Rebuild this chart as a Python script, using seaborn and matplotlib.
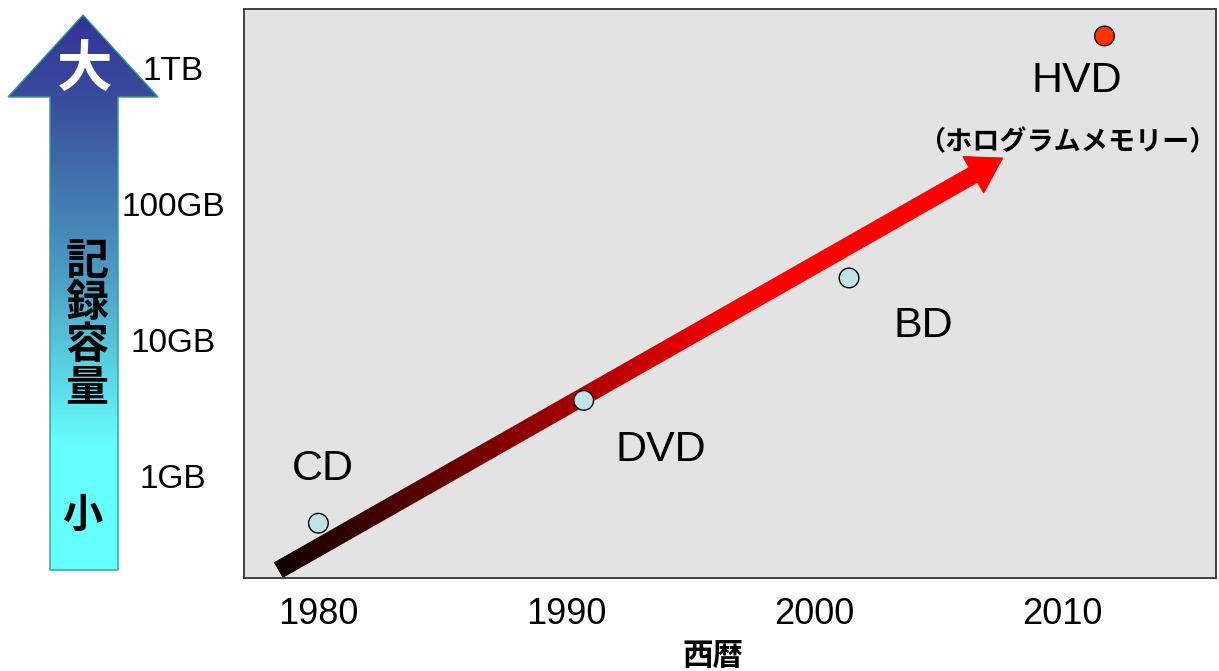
import numpy as np
import pandas as pd
import matplotlib
matplotlib.use("Agg")
import matplotlib.pyplot as plt
import matplotlib.transforms as mtransforms
from matplotlib.patches import Polygon
from matplotlib.colors import LinearSegmentedColormap
from matplotlib.ticker import NullLocator
import seaborn as sns

# === DATA ===
media = ["CD", "DVD", "BD", "HVD"]
years = [1980.0, 1990.7, 2001.4, 2011.7]
capacity_gb = [0.45, 3.6, 28.6, 1720]
kind = ["optical", "optical", "optical", "hologram"]
label_x = [1980.2, 1993.8, 2004.4, 2010.6]
label_y = [1.13, 1.55, 12.7, 800]
hvd_note = "（ホログラムメモリー）"
hvd_note_pos = (2010.2, 286)
cap_ticks = [1, 10, 100, 1000]
cap_tick_labels = ["1GB", "10GB", "100GB", "1TB"]
year_ticks = [1980, 1990, 2000, 2010]
trend_start = (1978.4, 0.204)
trend_end = (2007.6, 218)

# === STYLE ===
sns.set_style("white")
plt.rcParams["font.family"] = ["Liberation Sans", "Noto Sans CJK JP", "DejaVu Sans"]
plt.rcParams["text.color"] = "black"
plt.rcParams["axes.labelcolor"] = "black"
plt.rcParams["xtick.color"] = "black"
plt.rcParams["ytick.color"] = "black"
JP = ["Noto Sans CJK JP", "DejaVu Sans"]

W, H = 1219, 671
fig = plt.figure(figsize=(W / 100, H / 100), dpi=100)
fig.patch.set_facecolor("white")
ax = fig.add_axes([244 / W, 1 - 578 / H, (1216 - 244) / W, (578 - 9) / H])
ax.set_facecolor("#e3e3e3")
ax.set_yscale("log")
ax.set_xlim(1977.0, 2016.2)
ax.set_ylim(0.178, 2716)

df = pd.DataFrame({"media": media, "year": years, "capacity": capacity_gb, "kind": kind})
sns.scatterplot(data=df, x="year", y="capacity", hue="kind",
                palette={"optical": "#bfe3e6", "hologram": "#ff3300"},
                s=200, edgecolor="black", linewidth=1.0, legend=False,
                zorder=3, ax=ax)

for name, lx, ly in zip(media, label_x, label_y):
    ax.text(lx, ly, name, fontsize=31, color="black", ha="center", va="center", zorder=4)
ax.text(hvd_note_pos[0], hvd_note_pos[1], hvd_note, fontsize=19.5, fontweight="bold",
        family=JP, color="black", ha="center", va="center", zorder=4)

# axes, ticks, labels
ax.set_xticks(year_ticks)
ax.set_xticklabels([str(y) for y in year_ticks], fontsize=26)
ax.set_yticks(cap_ticks)
ax.set_yticklabels(cap_tick_labels, fontsize=24)
ax.yaxis.set_minor_locator(NullLocator())
for lab in ax.get_yticklabels():
    lab.set_ha("center")
ax.tick_params(axis="y", length=0, pad=51, labelcolor="black")
ax.tick_params(axis="x", length=0, pad=14, labelcolor="black")
ax.set_xlabel("西暦", fontsize=22, fontweight="bold", family=JP, color="black")
ax.xaxis.set_label_coords((713 - 244) / 972, -0.137)
ax.xaxis.label.set_va("center")
ax.set_ylabel("")
ax.grid(False)
for sp in ax.spines.values():
    sp.set_visible(True)
    sp.set_color("#333333")
    sp.set_linewidth(1.3)


# === TREND ARROW (gradient, drawn in pixel space) ===
def trend_arrow(ax, start, end, shaft=17, head_w=42, head_l=34, n=150):
    p0 = ax.transData.transform(start)
    p1 = ax.transData.transform(end)
    d = p1 - p0
    L = np.hypot(*d)
    u = d / L
    v = np.array([-u[1], u[0]])
    ident = mtransforms.IdentityTransform()

    def col(s):
        r = min(1.0, 0.06 + 1.45 * s / L)
        return (r, 0, 0)

    def quad(s0, h0, s1, h1):
        return [p0 + u * s0 + v * h0, p0 + u * s1 + v * h1,
                p0 + u * s1 - v * h1, p0 + u * s0 - v * h0]

    body = L - head_l
    cuts = np.linspace(0, body, n + 1)
    for a, b in zip(cuts[:-1], cuts[1:]):
        c = col((a + b) / 2)
        ax.add_artist(Polygon(quad(a, shaft / 2, b, shaft / 2), closed=True,
                              transform=ident, facecolor=c, edgecolor=c,
                              lw=0.6, zorder=2, clip_on=False))
    cuts = np.linspace(body, L, 30)
    for a, b in zip(cuts[:-1], cuts[1:]):
        c = col((a + b) / 2)
        ha = head_w / 2 * (L - a) / head_l
        hb = head_w / 2 * (L - b) / head_l
        ax.add_artist(Polygon(quad(a, ha, b, hb), closed=True,
                              transform=ident, facecolor=c, edgecolor=c,
                              lw=0.6, zorder=2, clip_on=False))


trend_arrow(ax, trend_start, trend_end)

# === LEFT CAPACITY ARROW (figure pixel coords) ===
ov = fig.add_axes([0, 0, 1, 1])
ov.set_xlim(0, W)
ov.set_ylim(H, 0)
ov.axis("off")
outline = [(50, 570), (50, 97), (8, 97), (83, 15), (158, 97), (118, 97), (118, 570)]
cap_arrow = Polygon(outline, closed=True, facecolor="none", edgecolor="#2e9a9a", lw=1.0, zorder=3)
ov.add_patch(cap_arrow)
blue_cmap = LinearSegmentedColormap.from_list(
    "cap", [(0, "#333399"), (0.16, "#3a4e9c"), (0.45, "#4a98c0"), (0.78, "#66ffff"), (1, "#66ffff")])
grad = np.linspace(0, 1, 256).reshape(-1, 1)
img = ov.imshow(grad, cmap=blue_cmap, extent=(8, 158, 570, 15), aspect="auto", zorder=2,
                interpolation="bilinear")
img.set_clip_path(Polygon(outline, closed=True, transform=ov.transData))
ov.set_xlim(0, W)
ov.set_ylim(H, 0)
ov.text(85, 70, "大", color="white", fontsize=40, fontweight="bold", family=JP,
        ha="center", va="center", zorder=4)
ov.text(87, 324, "記\n録\n容\n量", color="black", fontsize=31, fontweight="bold", family=JP,
        ha="center", va="center", linespacing=0.95, zorder=4)
ov.text(82, 515, "小", color="black", fontsize=29, fontweight="bold", family=JP,
        ha="center", va="center", zorder=4)

fig.savefig("out.png", dpi=100)
